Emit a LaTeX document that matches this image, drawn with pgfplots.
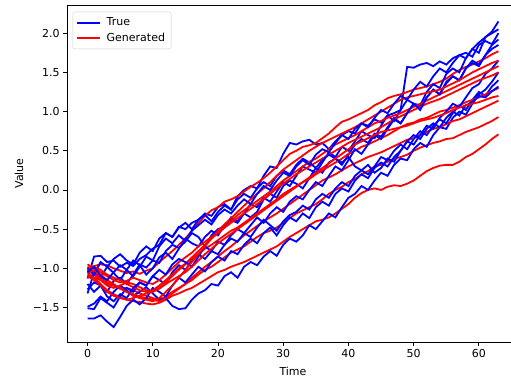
\documentclass[border=0pt]{standalone}
\usepackage{pgfplots}
\pgfplotsset{compat=1.18}
\usepackage{fontspec}
\setmainfont{DejaVu Sans}
\pgfplotsset{
  tr/.style={blue, line width=1.8pt},
  gn/.style={red, line width=1.8pt},
  table/sr/.style={header=false, x expr=\coordindex, y index=0, row sep=\\},
}
\begin{document}
\begin{tikzpicture}
\begin{axis}[name=ax, scale only axis, width=452pt, height=337pt,
  xmin=-3.15, xmax=66.15, ymin=-1.94, ymax=2.36,
  xtick={0,10,20,30,40,50,60}, xticklabels={0,10,20,30,40,50,60},
  ytick={-1.5,-1,-0.5,0,0.5,1,1.5,2},
  yticklabels={−1.5,−1.0,−0.5,0.0,0.5,1.0,1.5,2.0},
  tick align=outside, major tick length=3.9pt,
  tick style={black, line width=0.9pt},
  xtick pos=left, ytick pos=left,
  axis line style={line width=0.9pt},
  ticklabel style={font=\fontsize{11}{13}\selectfont},
  label style={font=\fontsize{11}{13}\selectfont},
  xlabel={Time}, ylabel={Value},
  xlabel style={at={(axis description cs:0.5,-0.086)}, anchor=center},
  ylabel style={at={(axis description cs:-0.106,0.5)}, anchor=center},
  legend style={at={(axis description cs:0,1)}, anchor=north west,
    xshift=5.7pt, yshift=-6.7pt, draw=black!20, rounded corners=2pt,
    font=\fontsize{11}{13}\selectfont, inner xsep=3pt, inner ysep=3.5pt,
    column sep=3pt, row sep=0.6pt, nodes={inner sep=2.5pt, inner xsep=3pt}},
  legend cell align=left,
  legend image code/.code={\draw[#1] (0pt,0pt) -- (23pt,0pt);},
]
% B1
\addplot[tr] table[sr]{-1.13\\-0.85\\-0.84\\-0.92\\-0.90\\-0.98\\-0.93\\-0.97\\-0.88\\-0.83\\-0.75\\-0.70\\-0.55\\-0.60\\-0.47\\-0.50\\-0.42\\-0.38\\-0.30\\-0.33\\-0.22\\-0.18\\-0.25\\-0.08\\0.00\\0.05\\0.02\\0.18\\0.30\\0.28\\0.46\\0.60\\0.58\\0.62\\0.64\\0.58\\0.60\\0.52\\0.62\\0.70\\0.75\\0.72\\0.85\\0.82\\0.90\\0.86\\0.95\\0.98\\1.02\\1.57\\1.56\\1.60\\1.62\\1.58\\1.64\\1.60\\1.68\\1.72\\1.75\\1.70\\1.85\\1.90\\1.86\\2.00\\};
\addlegendentry{True}
% R1
\addplot[gn] table[sr]{-1.00\\-0.97\\-0.95\\-0.96\\-1.00\\-1.03\\-1.06\\-1.04\\-1.07\\-1.03\\-1.00\\-0.92\\-0.85\\-0.78\\-0.70\\-0.62\\-0.52\\-0.42\\-0.33\\-0.26\\-0.22\\-0.15\\-0.12\\-0.08\\-0.02\\0.04\\0.09\\0.15\\0.22\\0.30\\0.38\\0.46\\0.50\\0.55\\0.57\\0.60\\0.66\\0.72\\0.80\\0.87\\0.90\\0.94\\0.98\\1.02\\1.08\\1.12\\1.17\\1.20\\1.22\\1.25\\1.28\\1.30\\1.32\\1.35\\1.38\\1.42\\1.48\\1.53\\1.57\\1.60\\1.64\\1.68\\1.73\\1.77\\};
\addlegendentry{Generated}
% B2
\addplot[tr, forget plot] table[sr]{-1.27\\-1.18\\-1.22\\-1.30\\-1.16\\-1.12\\-1.20\\-1.08\\-0.95\\-0.99\\-0.90\\-0.93\\-0.78\\-0.70\\-0.74\\-0.66\\-0.55\\-0.60\\-0.72\\-0.58\\-0.50\\-0.47\\-0.35\\-0.40\\-0.30\\-0.18\\-0.22\\-0.10\\-0.15\\-0.02\\0.10\\0.05\\0.18\\0.30\\0.26\\0.22\\0.35\\0.48\\0.42\\0.55\\0.50\\0.62\\0.75\\0.70\\0.66\\0.82\\0.95\\0.88\\1.02\\1.15\\1.10\\1.08\\1.25\\1.35\\1.30\\1.48\\1.55\\1.50\\1.68\\1.80\\1.75\\1.95\\2.02\\2.15\\};
% R2
\addplot[gn, forget plot] table[sr]{-1.05\\-1.12\\-1.20\\-1.28\\-1.33\\-1.37\\-1.40\\-1.42\\-1.43\\-1.45\\-1.46\\-1.44\\-1.40\\-1.35\\-1.32\\-1.28\\-1.25\\-1.20\\-1.15\\-1.10\\-1.05\\-1.02\\-0.98\\-0.95\\-0.92\\-0.88\\-0.84\\-0.80\\-0.76\\-0.72\\-0.66\\-0.60\\-0.55\\-0.50\\-0.45\\-0.40\\-0.38\\-0.35\\-0.30\\-0.24\\-0.18\\-0.10\\-0.04\\0.00\\0.02\\0.00\\0.04\\0.06\\0.05\\0.08\\0.12\\0.18\\0.24\\0.28\\0.31\\0.32\\0.32\\0.36\\0.42\\0.46\\0.52\\0.58\\0.65\\0.71\\};
% B3
\addplot[tr, forget plot] table[sr]{-1.32\\-1.05\\-1.12\\-0.98\\-1.06\\-1.15\\-1.02\\-0.90\\-0.96\\-1.08\\-1.00\\-0.86\\-0.80\\-0.88\\-0.75\\-0.62\\-0.68\\-0.72\\-0.60\\-0.52\\-0.58\\-0.45\\-0.38\\-0.42\\-0.30\\-0.35\\-0.28\\-0.12\\-0.05\\-0.10\\0.05\\0.12\\0.08\\0.02\\0.15\\0.28\\0.22\\0.35\\0.40\\0.32\\0.45\\0.58\\0.65\\0.60\\0.72\\0.68\\0.80\\0.92\\0.85\\0.98\\1.10\\1.05\\1.18\\1.28\\1.22\\1.38\\1.45\\1.40\\1.55\\1.62\\1.58\\1.72\\1.85\\1.92\\};
% R3
\addplot[gn, forget plot] table[sr]{-1.08\\-1.12\\-1.15\\-1.20\\-1.22\\-1.26\\-1.25\\-1.28\\-1.32\\-1.35\\-1.38\\-1.40\\-1.36\\-1.30\\-1.25\\-1.20\\-1.15\\-1.08\\-1.02\\-0.98\\-0.92\\-0.86\\-0.80\\-0.76\\-0.72\\-0.66\\-0.60\\-0.55\\-0.52\\-0.48\\-0.42\\-0.36\\-0.30\\-0.26\\-0.22\\-0.18\\-0.12\\-0.05\\0.00\\0.04\\0.10\\0.14\\0.20\\0.24\\0.30\\0.32\\0.36\\0.40\\0.42\\0.45\\0.50\\0.54\\0.57\\0.60\\0.62\\0.65\\0.66\\0.70\\0.74\\0.77\\0.80\\0.84\\0.88\\0.93\\};
% B4
\addplot[tr, forget plot] table[sr]{-1.49\\-1.45\\-1.36\\-1.42\\-1.30\\-1.22\\-1.28\\-1.35\\-1.30\\-1.24\\-1.32\\-1.40\\-1.38\\-1.48\\-1.52\\-1.51\\-1.40\\-1.32\\-1.28\\-1.20\\-1.22\\-1.10\\-1.05\\-1.12\\-0.98\\-0.92\\-0.96\\-0.85\\-0.78\\-0.84\\-0.70\\-0.62\\-0.66\\-0.58\\-0.45\\-0.50\\-0.40\\-0.30\\-0.35\\-0.22\\-0.10\\-0.05\\0.05\\0.00\\0.12\\0.22\\0.18\\0.32\\0.40\\0.38\\0.52\\0.60\\0.55\\0.70\\0.80\\0.78\\0.92\\1.00\\0.96\\1.10\\1.22\\1.28\\1.38\\1.50\\};
% R4
\addplot[gn, forget plot] table[sr]{-0.98\\-1.05\\-1.12\\-1.18\\-1.22\\-1.25\\-1.30\\-1.33\\-1.36\\-1.38\\-1.40\\-1.42\\-1.38\\-1.32\\-1.26\\-1.20\\-1.12\\-1.05\\-0.98\\-0.92\\-0.85\\-0.78\\-0.72\\-0.65\\-0.58\\-0.52\\-0.46\\-0.40\\-0.35\\-0.30\\-0.24\\-0.18\\-0.12\\-0.06\\0.00\\0.06\\0.12\\0.16\\0.20\\0.25\\0.30\\0.34\\0.38\\0.42\\0.45\\0.48\\0.52\\0.56\\0.60\\0.64\\0.66\\0.70\\0.74\\0.78\\0.80\\0.84\\0.88\\0.90\\0.94\\0.98\\1.02\\1.06\\1.10\\1.14\\};
% B5
\addplot[tr, forget plot] table[sr]{-1.51\\-1.52\\-1.38\\-1.44\\-1.50\\-1.36\\-1.25\\-1.30\\-1.18\\-1.22\\-1.10\\-1.15\\-1.20\\-1.05\\-0.96\\-1.02\\-0.90\\-0.82\\-0.88\\-0.78\\-0.82\\-0.70\\-0.62\\-0.66\\-0.55\\-0.60\\-0.48\\-0.38\\-0.45\\-0.52\\-0.40\\-0.32\\-0.28\\-0.20\\-0.25\\-0.12\\-0.05\\-0.10\\0.02\\0.10\\0.05\\0.18\\0.25\\0.20\\0.30\\0.42\\0.38\\0.50\\0.58\\0.52\\0.65\\0.75\\0.70\\0.82\\0.90\\0.85\\0.98\\1.08\\1.02\\1.15\\1.25\\1.20\\1.32\\1.40\\};
% R5
\addplot[gn, forget plot] table[sr]{-1.02\\-1.08\\-1.15\\-1.22\\-1.25\\-1.22\\-1.18\\-1.20\\-1.24\\-1.28\\-1.30\\-1.25\\-1.18\\-1.10\\-1.02\\-0.95\\-0.88\\-0.82\\-0.75\\-0.70\\-0.64\\-0.58\\-0.52\\-0.48\\-0.42\\-0.36\\-0.30\\-0.24\\-0.18\\-0.12\\-0.05\\0.00\\0.05\\0.10\\0.14\\0.20\\0.25\\0.30\\0.35\\0.40\\0.46\\0.50\\0.55\\0.58\\0.62\\0.66\\0.70\\0.75\\0.80\\0.84\\0.86\\0.90\\0.92\\0.96\\1.00\\1.02\\1.05\\1.08\\1.12\\1.15\\1.18\\1.22\\1.26\\1.30\\};
% B6
\addplot[tr, forget plot] table[sr]{-1.64\\-1.64\\-1.60\\-1.68\\-1.75\\-1.62\\-1.48\\-1.40\\-1.46\\-1.38\\-1.25\\-1.30\\-1.36\\-1.22\\-1.12\\-1.18\\-1.08\\-0.98\\-1.04\\-0.92\\-0.85\\-0.90\\-0.78\\-0.82\\-0.70\\-0.62\\-0.68\\-0.55\\-0.48\\-0.58\\-0.45\\-0.35\\-0.40\\-0.30\\-0.36\\-0.22\\-0.15\\-0.20\\-0.05\\0.02\\-0.02\\0.12\\0.20\\0.15\\0.28\\0.35\\0.30\\0.42\\0.50\\0.62\\0.58\\0.70\\0.82\\0.78\\0.92\\1.00\\1.10\\1.06\\1.18\\1.30\\1.35\\1.48\\1.55\\1.65\\};
% R6
\addplot[gn, forget plot] table[sr]{-0.95\\-1.00\\-1.05\\-1.10\\-1.15\\-1.18\\-1.16\\-1.12\\-1.15\\-1.18\\-1.20\\-1.15\\-1.08\\-1.00\\-0.92\\-0.86\\-0.80\\-0.72\\-0.66\\-0.60\\-0.55\\-0.48\\-0.42\\-0.36\\-0.30\\-0.24\\-0.18\\-0.12\\-0.05\\0.02\\0.08\\0.14\\0.20\\0.25\\0.30\\0.35\\0.40\\0.45\\0.50\\0.55\\0.60\\0.64\\0.68\\0.72\\0.76\\0.80\\0.85\\0.90\\0.94\\0.98\\1.02\\1.06\\1.10\\1.13\\1.16\\1.20\\1.24\\1.28\\1.32\\1.36\\1.40\\1.43\\1.46\\1.50\\};
% B7
\addplot[tr, forget plot] table[sr]{-1.00\\-1.08\\-0.92\\-0.98\\-0.88\\-0.82\\-0.90\\-0.95\\-0.80\\-0.72\\-0.78\\-0.62\\-0.55\\-0.60\\-0.48\\-0.42\\-0.50\\-0.38\\-0.32\\-0.40\\-0.28\\-0.20\\-0.25\\-0.12\\-0.05\\-0.10\\0.02\\0.10\\0.05\\0.18\\0.25\\0.20\\0.32\\0.40\\0.35\\0.28\\0.38\\0.45\\0.40\\0.35\\0.42\\0.30\\0.25\\0.32\\0.22\\0.28\\0.40\\0.36\\0.50\\0.62\\0.70\\0.65\\0.78\\0.85\\0.80\\0.92\\1.00\\0.95\\1.08\\1.12\\1.20\\1.18\\1.26\\1.32\\};
% R7
\addplot[gn, forget plot] table[sr]{-1.04\\-0.98\\-1.02\\-1.08\\-1.12\\-1.15\\-1.20\\-1.24\\-1.28\\-1.30\\-1.28\\-1.22\\-1.15\\-1.08\\-1.00\\-0.94\\-0.86\\-0.78\\-0.70\\-0.62\\-0.55\\-0.48\\-0.40\\-0.32\\-0.26\\-0.20\\-0.14\\-0.08\\-0.02\\0.05\\0.12\\0.18\\0.24\\0.30\\0.36\\0.40\\0.46\\0.52\\0.58\\0.62\\0.66\\0.70\\0.75\\0.80\\0.85\\0.88\\0.92\\0.95\\0.98\\1.02\\1.06\\1.10\\1.14\\1.18\\1.22\\1.26\\1.30\\1.34\\1.38\\1.42\\1.46\\1.50\\1.54\\1.58\\};
% B8
\addplot[tr, forget plot] table[sr]{-1.20\\-1.30\\-1.22\\-1.36\\-1.42\\-1.33\\-1.38\\-1.25\\-1.18\\-1.22\\-1.10\\-1.02\\-1.08\\-0.95\\-0.88\\-0.92\\-0.98\\-0.85\\-0.72\\-0.78\\-0.66\\-0.70\\-0.58\\-0.50\\-0.55\\-0.45\\-0.35\\-0.42\\-0.30\\-0.22\\-0.28\\-0.15\\-0.08\\-0.12\\0.00\\0.10\\0.05\\0.18\\0.30\\0.25\\0.38\\0.52\\0.46\\0.58\\0.70\\0.65\\0.78\\0.90\\0.85\\0.98\\1.10\\1.02\\1.18\\1.28\\1.22\\1.36\\1.45\\1.40\\1.55\\1.65\\1.60\\1.72\\1.80\\1.85\\};
% R8
\addplot[gn, forget plot] table[sr]{-1.06\\-1.02\\-1.08\\-1.15\\-1.20\\-1.26\\-1.30\\-1.35\\-1.38\\-1.40\\-1.42\\-1.38\\-1.30\\-1.22\\-1.12\\-1.02\\-0.92\\-0.82\\-0.72\\-0.62\\-0.52\\-0.44\\-0.36\\-0.28\\-0.20\\-0.12\\-0.05\\0.02\\0.10\\0.18\\0.26\\0.32\\0.38\\0.44\\0.50\\0.55\\0.60\\0.64\\0.68\\0.72\\0.76\\0.80\\0.85\\0.90\\0.95\\1.00\\1.05\\1.10\\1.15\\1.18\\1.20\\1.22\\1.24\\1.26\\1.28\\1.32\\1.36\\1.40\\1.45\\1.50\\1.54\\1.58\\1.62\\1.65\\};
% B9
\addplot[tr, forget plot] table[sr]{-1.05\\-0.98\\-1.10\\-1.15\\-1.05\\-0.96\\-1.02\\-1.10\\-0.98\\-0.85\\-0.90\\-0.72\\-0.62\\-0.68\\-0.58\\-0.65\\-0.52\\-0.45\\-0.38\\-0.44\\-0.32\\-0.25\\-0.30\\-0.20\\-0.12\\-0.18\\-0.05\\0.05\\0.00\\0.12\\0.22\\0.18\\0.30\\0.38\\0.32\\0.45\\0.52\\0.48\\0.60\\0.70\\0.65\\0.78\\0.85\\0.80\\0.92\\1.02\\0.98\\1.10\\1.20\\1.15\\1.28\\1.38\\1.32\\1.45\\1.55\\1.50\\1.62\\1.72\\1.68\\1.80\\1.88\\1.95\\2.00\\2.05\\};
% R9
\addplot[gn, forget plot] table[sr]{-1.10\\-1.15\\-1.22\\-1.30\\-1.35\\-1.38\\-1.40\\-1.38\\-1.35\\-1.32\\-1.30\\-1.26\\-1.20\\-1.15\\-1.10\\-1.05\\-0.98\\-0.90\\-0.82\\-0.75\\-0.68\\-0.62\\-0.56\\-0.50\\-0.44\\-0.38\\-0.32\\-0.26\\-0.20\\-0.14\\-0.08\\-0.02\\0.04\\0.10\\0.16\\0.22\\0.28\\0.34\\0.40\\0.46\\0.52\\0.58\\0.62\\0.66\\0.70\\0.74\\0.76\\0.78\\0.80\\0.82\\0.85\\0.88\\0.90\\0.92\\0.95\\0.98\\1.02\\1.05\\1.08\\1.10\\1.12\\1.15\\1.18\\1.20\\};
\end{axis}
\pgfresetboundingbox
\path[use as bounding box] ([xshift=-67pt,yshift=-39pt]ax.south west) rectangle ([xshift=-8pt,yshift=5pt]ax.north east);
\end{tikzpicture}
\end{document}
